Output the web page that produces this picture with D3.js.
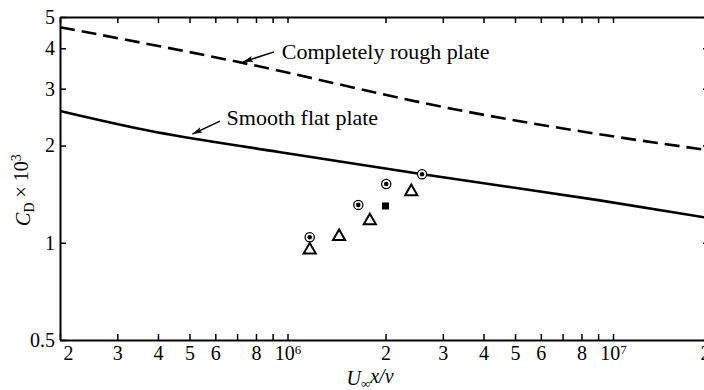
<!DOCTYPE html>
<html>
<meta charset="utf-8" />
<script src="https://d3js.org/d3.v7.min.js"></script>
<style>
  body { margin: 0; background: #fff; }
  text { font-family: "Liberation Serif", "DejaVu Serif", serif; fill: #000; }
</style>
<body>
<div id="chart"></div>
<script>
// Reynolds number ticks (x) and drag coefficient ticks (y)
var xTicks = [2e5, 3e5, 4e5, 5e5, 6e5, 7e5, 8e5, 9e5,
              1e6, 2e6, 3e6, 4e6, 5e6, 6e6, 7e6, 8e6, 9e6, 1e7, 2e7];
var xUnlabeled = [7e5, 9e5, 7e6, 9e6];
var yTicks = [0.5, 1, 2, 3, 4, 5];

// curves, [Re, CD x 10^3]
var roughPlate = [[2e5, 4.65], [6.6e5, 3.68], [3.6e6, 2.54], [9e6, 2.17], [2e7, 1.93]];
var smoothPlate = [[2e5, 2.56], [3.7e5, 2.23], [9.4e5, 1.91], [2.6e6, 1.63], [9e6, 1.355], [2e7, 1.19]];

// measurements
var circleDots = [[1.17e6, 1.04], [1.65e6, 1.31], [2.01e6, 1.52], [2.59e6, 1.63]];
var triangles = [[1.17e6, 0.95], [1.44e6, 1.045], [1.79e6, 1.17], [2.4e6, 1.44]];
var squares = [[2.0e6, 1.30]];

var margin = {top: 17, left: 60},
    width = 651, height = 323;

var svg = d3.select("#chart").append("svg")
    .attr("width", 704).attr("height", 390);

var defs = svg.append("defs");
defs.append("marker")
    .attr("id", "arrow")
    .attr("viewBox", "0 0 10 6")
    .attr("refX", 10).attr("refY", 3)
    .attr("markerWidth", 10).attr("markerHeight", 6)
    .attr("markerUnits", "userSpaceOnUse")
    .attr("orient", "auto")
  .append("path")
    .attr("d", "M0,0 L10,3 L0,6 L2,3 Z")
    .attr("fill", "#000");

var g = svg.append("g")
    .attr("transform", "translate(" + margin.left + "," + margin.top + ")");

var x = d3.scaleLog().domain([2e5, 2e7]).range([0, width]);
var y = d3.scaleLog().domain([0.5, 5]).range([height, 0]);

function xLabel(d) {
  if (xUnlabeled.indexOf(d) >= 0) return "";
  var e = Math.floor(Math.log10(d) + 1e-9);
  var m = Math.round(d / Math.pow(10, e));
  return m === 1 ? "10|" + e : String(m);
}

var bottom = g.append("g")
    .attr("transform", "translate(0," + height + ")")
    .call(d3.axisBottom(x).tickValues(xTicks).tickFormat(xLabel)
      .tickSize(-6).tickSizeOuter(0).tickPadding(6));

bottom.selectAll(".tick text").each(function(d) {
  var t = d3.select(this), s = t.text();
  if (s.indexOf("|") >= 0) {
    var parts = s.split("|");
    t.text(parts[0]);
    t.append("tspan").attr("dy", "-0.45em").attr("font-size", "13px").text(parts[1]);
  }
  if (d === 2e5) t.attr("dx", 8);
  if (d === 2e7) t.attr("dx", -6);
});

g.append("g")
    .call(d3.axisTop(x).tickValues(xTicks).tickFormat("")
      .tickSize(-6).tickSizeOuter(0));

g.append("g")
    .call(d3.axisLeft(y).tickValues(yTicks).tickFormat(d3.format("")).tickSize(-6)
      .tickSizeOuter(0).tickPadding(5));

g.append("g")
    .attr("transform", "translate(" + width + ",0)")
    .call(d3.axisRight(y).tickValues(yTicks).tickFormat("").tickSize(-8).tickSizeOuter(0));

g.selectAll(".domain").attr("stroke", "#000").attr("stroke-width", 2);
g.selectAll(".tick line").attr("stroke", "#000").attr("stroke-width", 1.5);
g.selectAll(".tick text").attr("font-size", "20px").attr("fill", "#000")
    .attr("font-family", "Liberation Serif, serif");

var line = d3.line()
    .x(function(d) { return x(d[0]); })
    .y(function(d) { return y(d[1]); })
    .curve(d3.curveMonotoneX);

g.append("path").datum(roughPlate)
    .attr("fill", "none").attr("stroke", "#000").attr("stroke-width", 2.6)
    .attr("stroke-dasharray", "15,7")
    .attr("d", line);

g.append("path").datum(smoothPlate)
    .attr("fill", "none").attr("stroke", "#000").attr("stroke-width", 2.6)
    .attr("d", line);

// annotations
g.append("line")
    .attr("x1", x(9.1e5)).attr("y1", y(3.90))
    .attr("x2", x(7.3e5)).attr("y2", y(3.63))
    .attr("stroke", "#000").attr("stroke-width", 1.5)
    .attr("marker-end", "url(#arrow)");
g.append("text")
    .attr("x", x(9.6e5)).attr("y", y(3.71))
    .attr("font-size", "22px")
    .text("Completely rough plate");

g.append("line")
    .attr("x1", x(6.2e5)).attr("y1", y(2.38))
    .attr("x2", x(5.1e5)).attr("y2", y(2.17))
    .attr("stroke", "#000").attr("stroke-width", 1.5)
    .attr("marker-end", "url(#arrow)");
g.append("text")
    .attr("x", x(6.5e5)).attr("y", y(2.32))
    .attr("font-size", "22px")
    .text("Smooth flat plate");

// data points
g.selectAll(".cring").data(circleDots).enter().append("circle")
    .attr("cx", function(d) { return x(d[0]); })
    .attr("cy", function(d) { return y(d[1]); })
    .attr("r", 4.6).attr("fill", "#fff").attr("stroke", "#000").attr("stroke-width", 1.3);
g.selectAll(".cdot").data(circleDots).enter().append("circle")
    .attr("cx", function(d) { return x(d[0]); })
    .attr("cy", function(d) { return y(d[1]); })
    .attr("r", 2.3).attr("fill", "#000");

var tri = d3.symbol().type(d3.symbolTriangle).size(64);
g.selectAll(".tri").data(triangles).enter().append("path")
    .attr("transform", function(d) { return "translate(" + x(d[0]) + "," + y(d[1]) + ")"; })
    .attr("d", tri)
    .attr("fill", "#fff").attr("stroke", "#000").attr("stroke-width", 2);

g.selectAll(".sq").data(squares).enter().append("rect")
    .attr("x", function(d) { return x(d[0]) - 3.5; })
    .attr("y", function(d) { return y(d[1]) - 3.5; })
    .attr("width", 7).attr("height", 7).attr("fill", "#000");

// axis titles
var yt = svg.append("text")
    .attr("transform", "translate(30,190) rotate(-90)")
    .attr("text-anchor", "middle")
    .attr("font-size", "20px");
yt.append("tspan").attr("font-style", "italic").text("C");
yt.append("tspan").attr("dy", "0.3em").attr("font-size", "14px").text("D");
yt.append("tspan").attr("dy", "-0.3em").text(" \u00d7 10");
yt.append("tspan").attr("dy", "-0.5em").attr("font-size", "14px").text("3");

var xt = svg.append("text")
    .attr("x", 370).attr("y", 385)
    .attr("text-anchor", "middle")
    .attr("font-size", "20px")
    .attr("font-style", "italic");
xt.append("tspan").text("U");
xt.append("tspan").attr("dy", "0.25em").attr("font-size", "13px").text("\u221e");
xt.append("tspan").attr("dy", "-0.25em").text("x/\u03bd");
</script>
</body>
</html>
